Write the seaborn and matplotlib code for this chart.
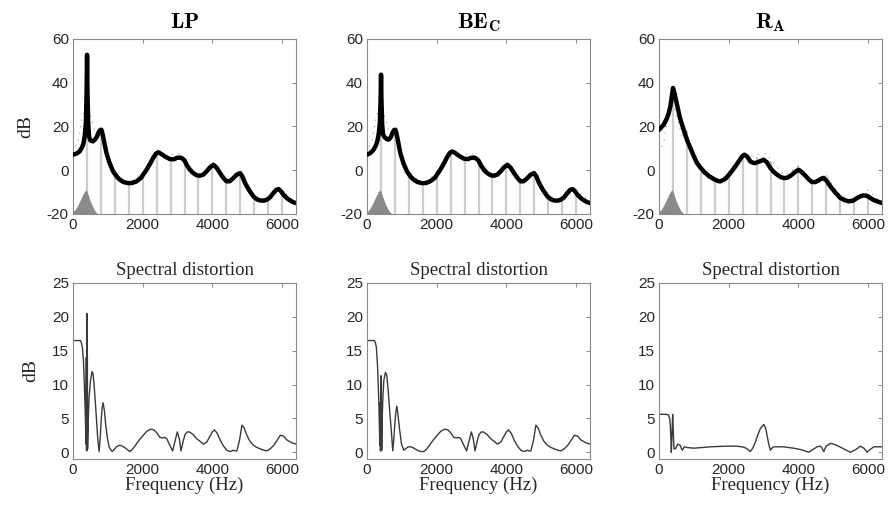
import numpy as np
import pandas as pd
import matplotlib
matplotlib.use("Agg")
import matplotlib.pyplot as plt
import seaborn as sns

# ---------------- data ----------------
titles = [r"$\mathbf{LP}$", r"$\mathbf{BE}_\mathbf{C}$", r"$\mathbf{R}_\mathbf{A}$"]

# harmonics (Hz) and their amplitudes (dB)
harm_hz = [400, 800, 1200, 1600, 2000, 2400, 2800, 3200, 3600, 4000, 4400, 4800, 5200, 5600, 6000]
harm_db = [31, 18, -1, -6, -1, 8, 6, 4, -3, 2, -5, -2, -12, -13.5, -11]

# true envelope (dotted)
true_hz = [0, 150, 250, 330, 400, 470, 550, 650, 800, 950, 1200, 1600, 2000, 2400, 2700, 2900, 3100, 3300, 3600, 4000, 4400, 4800, 5200, 5600, 6000, 6400]
true_db = [8, 14, 23, 28, 29.5, 27, 22, 16, 18, 8, -1, -6, -1, 8, 6.5, 7.5, 7.5, 3, -2.5, 2, -5, -2, -12, -13.5, -9, -15]

# window main lobe (gray fill)
lobe_hz = [0, 60, 120, 180, 240, 300, 350, 385, 420, 470, 530, 590, 650, 700, 730]
lobe_db = [-19, -18, -16.5, -14.5, -12.5, -10.5, -9.3, -9, -10.5, -13, -15.5, -17.5, -19, -19.7, -20]

# estimated envelopes (thick black)
lp_hz = [0, 100, 190, 260, 300, 340, 370, 390, 403, 415, 435, 460, 500, 575, 640, 690, 740, 780, 815, 850, 900, 960, 1050, 1150, 1250, 1340, 1450, 1580, 1700, 1820, 1950, 2110, 2220, 2300, 2380, 2445, 2520, 2640, 2780, 2900, 2970, 3060, 3120, 3200, 3260, 3350, 3450, 3550, 3640, 3740, 3835, 3930, 4030, 4120, 4220, 4320, 4410, 4500, 4600, 4700, 4795, 4860, 4940, 5050, 5180, 5280, 5370, 5470, 5560, 5660, 5750, 5830, 5900, 5970, 6040, 6140, 6230, 6320, 6400]
lp_db = [7.1, 7.6, 8.6, 10.5, 12.2, 16, 22, 35, 52.8, 36, 22, 15.5, 13.6, 13.2, 14.2, 15.5, 17.5, 18.4, 18.5, 16.5, 12.5, 7.9, 3.3, -0.5, -2.8, -4.3, -5.4, -5.9, -5.8, -5.1, -3.5, 0.2, 3.2, 5.6, 7.6, 8.2, 7.6, 6.3, 5.1, 5.0, 5.6, 5.8, 5.6, 4.5, 2.5, 0.3, -1.3, -2.3, -2.5, -2.0, -0.5, 1.3, 2.5, 1.2, -1.3, -3.6, -5.1, -5.0, -3.6, -2.0, -1.3, -2.8, -5.9, -9.0, -12.0, -13.3, -13.8, -13.9, -13.5, -12.3, -10.4, -9.0, -8.6, -9.6, -11.2, -12.8, -13.8, -14.6, -15]

be_hz = [0, 100, 190, 260, 300, 340, 370, 390, 403, 415, 435, 460, 500, 570, 625, 690, 740, 780, 816, 850, 900, 960, 1050, 1150, 1250, 1340, 1450, 1580, 1700, 1820, 1950, 2110, 2220, 2300, 2380, 2445, 2520, 2640, 2780, 2900, 2970, 3060, 3120, 3200, 3260, 3350, 3450, 3550, 3640, 3740, 3835, 3930, 4030, 4120, 4220, 4320, 4410, 4500, 4600, 4700, 4795, 4860, 4940, 5050, 5180, 5280, 5370, 5470, 5560, 5660, 5750, 5830, 5900, 5970, 6040, 6140, 6230, 6320, 6400]
be_db = [7.1, 7.9, 9.4, 11.5, 13.5, 17, 22, 32, 43.7, 32, 21, 16.5, 15.2, 14.2, 14.0, 15.3, 17.4, 18.4, 18.5, 16.5, 12.5, 7.6, 3.0, -0.6, -2.9, -4.3, -5.4, -5.9, -5.8, -5.0, -3.4, 0.4, 3.5, 6.0, 8.0, 8.6, 8.0, 6.6, 5.3, 5.1, 5.6, 5.8, 5.5, 4.4, 2.5, 0.3, -1.3, -2.3, -2.5, -2.0, -0.5, 1.3, 2.5, 1.2, -1.3, -3.6, -5.1, -5.0, -3.6, -2.0, -1.3, -2.8, -5.9, -9.0, -12.0, -13.3, -13.8, -13.9, -13.5, -12.3, -10.4, -9.0, -8.6, -9.6, -11.2, -12.8, -13.8, -14.6, -15]

ra_hz = [0, 134, 220, 277, 330, 370, 402, 440, 517, 600, 708, 800, 900, 1000, 1091, 1190, 1282, 1420, 1569, 1680, 1761, 1900, 2048, 2180, 2287, 2380, 2450, 2530, 2622, 2700, 2766, 2880, 3005, 3100, 3196, 3290, 3387, 3500, 3598, 3700, 3818, 3920, 4010, 4100, 4201, 4300, 4392, 4490, 4584, 4660, 4727, 4820, 4919, 5060, 5206, 5330, 5445, 5560, 5684, 5780, 5876, 5970, 6067, 6160, 6258, 6402]
ra_db = [18.5, 20.8, 23.5, 26, 29.5, 34, 37.6, 35.5, 30, 24, 18.5, 14.0, 10.2, 6.4, 3.3, 1.2, -0.5, -2.5, -4.0, -4.9, -5.1, -4.0, -1.3, 1.5, 4.0, 6.2, 7.1, 6.3, 4.0, 3.4, 3.3, 4.0, 4.8, 3.6, 1.0, -0.7, -2.0, -3.2, -3.6, -3.3, -2.0, -0.6, 0.2, -0.9, -2.5, -4.2, -5.4, -5.4, -4.6, -3.8, -3.6, -5.0, -7.4, -10.2, -12.7, -13.7, -14.2, -14.0, -12.7, -11.9, -11.5, -11.7, -12.7, -13.6, -14.2, -15]

# spectral distortion (thin)
lp_sd_hz = [0, 100, 211, 240, 269, 300, 326, 350, 365, 375, 382, 388, 394, 400, 406, 412, 418, 424, 440, 460, 500, 547, 575, 605, 640, 672, 710, 749, 780, 806, 835, 864, 900, 940, 990, 1036, 1080, 1123, 1180, 1248, 1310, 1372, 1450, 1535, 1580, 1631, 1700, 1775, 1900, 2015, 2120, 2226, 2320, 2399, 2450, 2495, 2560, 2639, 2690, 2735, 2800, 2860, 2920, 2994, 3050, 3100, 3160, 3215, 3280, 3340, 3450, 3551, 3650, 3743, 3840, 3935, 4000, 4060, 4140, 4223, 4320, 4415, 4460, 4511, 4560, 4607, 4650, 4703, 4780, 4847, 4910, 4990, 5080, 5182, 5280, 5374, 5470, 5566, 5660, 5758, 5850, 5950, 6040, 6142, 6280, 6400]
lp_sd_db = [16.5, 16.5, 16.5, 16.2, 15.5, 13.5, 10, 6, 3, 1.2, 14, 0.2, 14, 20.5, 0.3, 14, 0.5, 1.5, 5, 8, 10.5, 11.9, 11.6, 10, 7.5, 5, 2, 0.1, 2, 4.5, 6.5, 7.3, 6.2, 4, 2, 0.8, 0.4, 0.1, 0.4, 0.8, 1.0, 1.0, 0.8, 0.5, 0.3, 0.1, 0.4, 0.9, 1.8, 2.5, 3.1, 3.4, 3.3, 2.9, 2.5, 2.2, 2.1, 2.2, 2.0, 1.5, 0.8, 0.2, 1.5, 3.0, 2.0, 0.2, 1.6, 2.6, 3.0, 3.0, 2.6, 2.0, 1.6, 1.2, 1.5, 2.4, 3.0, 3.3, 2.8, 1.8, 0.9, 0.3, 0.2, 0.1, 0.2, 0.3, 0.2, 0.2, 1.8, 4.0, 3.6, 2.5, 1.6, 1.0, 0.7, 0.5, 0.3, 0.2, 0.5, 1.0, 1.7, 2.5, 2.4, 1.8, 1.4, 1.2]

be_sd_hz = [0, 100, 211, 240, 269, 300, 336, 355, 368, 378, 386, 394, 400, 406, 414, 422, 442, 460, 480, 528, 560, 576, 610, 653, 700, 740, 770, 797, 825, 855, 890, 932, 990, 1057, 1110, 1180, 1248, 1310, 1372, 1450, 1535, 1580, 1631, 1700, 1775, 1900, 2015, 2120, 2226, 2320, 2399, 2450, 2495, 2560, 2639, 2690, 2735, 2800, 2860, 2920, 2994, 3050, 3100, 3160, 3215, 3280, 3340, 3450, 3551, 3650, 3743, 3840, 3935, 4000, 4060, 4140, 4223, 4320, 4415, 4460, 4511, 4560, 4607, 4650, 4703, 4780, 4847, 4910, 4990, 5080, 5182, 5280, 5374, 5470, 5566, 5660, 5758, 5850, 5950, 6040, 6142, 6280, 6400]
be_sd_db = [16.5, 16.5, 16.5, 16.2, 15.5, 13.0, 8.0, 4.0, 1.0, 7.3, 0.2, 7.3, 11.3, 0.2, 7.0, 0.3, 6, 8.5, 10.5, 11.8, 11.5, 11.0, 9.0, 6, 3, 0.2, 2, 4, 5.8, 6.8, 5.5, 3.5, 1.2, 0.3, 0.5, 0.8, 0.8, 0.7, 0.5, 0.3, 0.1, 0.1, 0.1, 0.4, 0.9, 1.8, 2.5, 3.1, 3.4, 3.3, 2.9, 2.5, 2.2, 2.1, 2.2, 2.0, 1.5, 0.8, 0.2, 1.5, 3.0, 2.0, 0.2, 1.6, 2.6, 3.0, 3.0, 2.6, 2.0, 1.6, 1.2, 1.5, 2.4, 3.0, 3.3, 2.8, 1.8, 0.9, 0.3, 0.2, 0.1, 0.2, 0.3, 0.2, 0.2, 1.8, 4.0, 3.6, 2.5, 1.6, 1.0, 0.7, 0.5, 0.3, 0.2, 0.5, 1.0, 1.7, 2.5, 2.4, 1.8, 1.4, 1.2]

ra_sd_hz = [0, 100, 200, 277, 305, 325, 345, 354, 372, 392, 410, 430, 469, 500, 536, 575, 612, 640, 670, 727, 800, 995, 1250, 1474, 1700, 1953, 2200, 2383, 2500, 2622, 2700, 2765, 2840, 2909, 3005, 3060, 3100, 3150, 3196, 3240, 3292, 3450, 3579, 3700, 3866, 4057, 4180, 4297, 4420, 4536, 4632, 4680, 4727, 4800, 4919, 5010, 5110, 5300, 5493, 5650, 5780, 5880, 5971, 6060, 6163, 6280, 6402]
ra_sd_db = [5.6, 5.6, 5.6, 5.5, 5.0, 4.0, 1.5, 0.0, 2.5, 5.6, 3.0, 0.5, 0.5, 0.8, 1.2, 1.1, 1.0, 0.6, 0.3, 0.8, 0.7, 0.6, 0.7, 0.8, 0.85, 0.9, 0.9, 0.8, 0.6, 0.1, 0.7, 1.5, 2.6, 3.5, 4.1, 3.6, 2.5, 1.2, 0.3, 0.6, 0.8, 0.8, 0.8, 0.7, 0.6, 0.4, 0.2, 0.0, 0.4, 0.8, 0.9, 0.6, 0.1, 0.9, 1.3, 1.2, 1.0, 0.5, 0.0, 0.4, 0.9, 0.6, 0.0, 0.4, 0.8, 0.8, 0.8]

env_sets = [(lp_hz, lp_db), (be_hz, be_db), (ra_hz, ra_db)]
sd_sets = [(lp_sd_hz, lp_sd_db), (be_sd_hz, be_sd_db), (ra_sd_hz, ra_sd_db)]

xticks = [0, 2000, 4000, 6000]
top_yticks = [-20, 0, 20, 40, 60]
bot_yticks = [0, 5, 10, 15, 20, 25]

# ---------------- style ----------------
sns.set_theme(style="white")
plt.rcParams["font.family"] = ["Liberation Sans", "DejaVu Sans"]
plt.rcParams["mathtext.fontset"] = "cm"
plt.rcParams["axes.unicode_minus"] = False
serif = ["Liberation Serif", "DejaVu Serif"]
spine_c = "#8a8a8a"
text_c = "#262626"

fig = plt.figure(figsize=(8.91, 5.08), dpi=100)
lefts = [73 / 891, 367 / 891, 659 / 891]
w = 223 / 891
top_b, top_h = 1 - 214 / 508, 175 / 508
bot_b, bot_h = 1 - 459 / 508, 176 / 508


def style_axes(ax, yticks, ylim):
    ax.set_xlim(0, 6400)
    ax.set_ylim(*ylim)
    ax.set_xticks(xticks)
    ax.set_yticks(yticks)
    for s in ax.spines.values():
        s.set_visible(True)
        s.set_color(spine_c)
        s.set_linewidth(0.8)
    ax.tick_params(direction="in", top=True, right=True, length=3, width=0.7,
                   color=spine_c, labelsize=11, labelcolor=text_c, pad=3)
    ax.set_xlabel("")
    ax.set_ylabel("")


for i in range(3):
    # top panel
    ax = fig.add_axes([lefts[i], top_b, w, top_h])
    ax.vlines(harm_hz, -20, harm_db, color="#cdcdcd", lw=1.6, zorder=1)
    ax.fill_between(lobe_hz, -20, lobe_db, color="#8a8a8a", lw=0, zorder=2)
    sns.lineplot(x=true_hz, y=true_db, ax=ax, color="#9a9a9a", lw=0.8,
                 linestyle=(0, (1, 5)), zorder=2)
    hz, db = env_sets[i]
    sns.lineplot(x=hz, y=db, ax=ax, color="black", lw=3.2, zorder=3)
    style_axes(ax, top_yticks, (-20, 60))
    ax.set_title(titles[i], fontsize=16, pad=8, color="black")
    if i == 0:
        ax.set_ylabel("dB", family=serif, fontsize=14, color=text_c, labelpad=9)

    # bottom panel
    ax2 = fig.add_axes([lefts[i], bot_b, w, bot_h])
    hz, db = sd_sets[i]
    sns.lineplot(x=hz, y=db, ax=ax2, color="#3a3a3a", lw=1.0)
    style_axes(ax2, bot_yticks, (-1, 25))
    ax2.set_title("Spectral distortion", family=serif, fontsize=13.5, pad=6, color=text_c)
    ax2.set_xlabel("Frequency (Hz)", family=serif, fontsize=13.5, color=text_c, labelpad=0)
    if i == 0:
        ax2.set_ylabel("dB", family=serif, fontsize=14, color=text_c, labelpad=9)

fig.savefig("out.png", dpi=100, facecolor="white")
